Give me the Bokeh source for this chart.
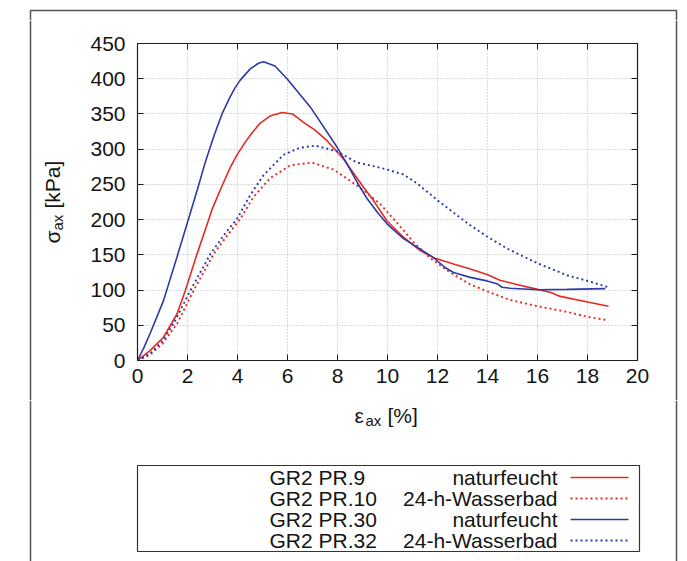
import math
from bokeh.plotting import figure
from bokeh.layouts import column, row
from bokeh.models import Range1d, LinearAxis, FixedTicker, CustomJSTickFormatter
from bokeh.core.properties import value
from bokeh.embed import file_html
from bokeh.resources import INLINE

# ---------------- data ----------------
pr9_x = [0, 0.5, 1.04, 1.58, 1.91, 2.38, 2.84, 3.0, 3.31, 3.71, 4.0, 4.31, 4.6, 4.91,
         5.3, 5.78, 6.2, 6.64, 7.1, 7.58, 8.24, 9.04, 9.44, 9.98, 10.64, 11.31, 11.84, 12.64,
         13.31, 13.98, 14.5, 15.17, 16.0, 16.51, 16.91, 18.0, 18.84]
pr9_y = [0, 14, 33, 66, 99, 151, 199, 216, 242, 274, 293, 310, 324, 337,
         347, 352, 350, 338, 327, 312, 286, 246, 227, 198, 175, 156, 146, 137,
         130, 122, 114, 108, 101, 97, 91, 83, 77]

pr10_x = [0, 0.5, 1.0, 1.58, 2.24, 3.04, 3.6, 4.11, 4.64, 5.31, 6.11, 6.98, 7.84, 8.51, 9.1,
          9.71, 10.37, 11.04, 11.65, 12.3, 12.64, 13.31, 14.0, 14.9, 16.0, 17.18, 18.0, 18.84]
pr10_y = [0, 8, 24, 52, 99, 151, 178, 201, 232, 259, 277, 281, 271, 255, 240,
          222, 196, 168, 147, 130, 122, 108, 98, 86, 77, 69, 62, 57]

pr30_x = [0, 0.25, 0.5, 1.04, 1.58, 2.04, 2.38, 2.7, 2.91, 3.1, 3.38, 3.7, 3.9, 4.11, 4.51,
          4.84, 5.04, 5.5, 5.98, 6.91, 7.98, 8.38, 8.8, 9.18, 9.6, 9.98, 10.64, 11.31, 11.84,
          12.3, 12.64, 13.31, 13.98, 14.38, 14.58, 14.91, 16.0, 17.18, 18.71]
pr30_y = [0, 18, 38, 85, 147, 201, 241, 280, 303, 323, 350, 374, 387, 398, 414,
          422, 424, 418, 400, 360, 303, 279, 252, 230, 210, 194, 173, 158, 146,
          132, 125, 118, 113, 109, 104, 102.5, 100.5, 101, 102]

pr32_x = [0, 0.51, 1.0, 1.44, 2.11, 2.91, 3.5, 3.98, 4.51, 5.04, 5.84, 6.5, 7.11, 7.98, 8.78,
          9.31, 10.0, 10.64, 11.2, 11.98, 12.64, 13.31, 13.98, 14.5, 14.78, 16.0, 17.18, 18.0,
          18.84]
pr32_y = [0, 10, 28, 52, 99, 151, 180, 201, 235, 263, 292, 302, 305, 297, 281,
          277, 271, 264, 251, 228, 210, 192, 176, 165, 159, 138, 121, 113,
          104]

series_names = ["GR2 PR.9", "GR2 PR.10", "GR2 PR.30", "GR2 PR.32"]
series_conditions = ["naturfeucht", "24-h-Wasserbad", "naturfeucht", "24-h-Wasserbad"]
x_ticks = [0, 2, 4, 6, 8, 10, 12, 14, 16, 18, 20]
y_ticks = [0, 50, 100, 150, 200, 250, 300, 350, 400, 450]

# ---------------- styles ----------------
RED = "#e62a1e"
BLUE = "#2e3aa6"
TXT = "#141414"
FRAME = "#555555"
FONT = "Liberation Sans"
FS = "21px"
series_x = [pr9_x, pr10_x, pr30_x, pr32_x]
series_y = [pr9_y, pr10_y, pr30_y, pr32_y]
series_color = [RED, RED, BLUE, BLUE]
series_dash = ["solid", "2 3", "solid", "2 3"]
series_width = [1.6, 1.9, 1.6, 1.9]

W, H = 687, 561
TOP_H = 20          # top strip height
MID_H = 380         # main strip height (y 20..400)
BOT_H = H - TOP_H - MID_H
LEFT_W = 70
RIGHT_W = 37
MAIN_W = W - LEFT_W - RIGHT_W
FL, FR, FT, FB = 137, 637, 43, 360   # plot frame edges in page pixels
OX0, OX1, OY0 = 30, 676, 10          # outer page frame


def no_align(f):
    try:
        f.frame_align = False
    except Exception:
        pass


def pix_fig(w, h, x0, y0):
    f = figure(width=w, height=h, x_range=Range1d(x0, x0 + w), y_range=Range1d(y0 + h, y0),
               output_backend="svg", toolbar_location=None, min_border=0,
               x_axis_type=None, y_axis_type=None)
    f.outline_line_color = None
    f.background_fill_color = "white"
    f.border_fill_color = "white"
    no_align(f)
    return f


def txt(f, x, y, t, size=FS, align="left", base="alphabetic", angle=0.0):
    f.text(x=[x], y=[y], text=[t], text_font=value(FONT), text_font_size=value(size),
           text_color=TXT, text_align=value(align), text_baseline=value(base), angle=angle)


# ---------------- main plot ----------------
p = figure(width=MAIN_W, height=MID_H, x_range=Range1d(0, 20), y_range=Range1d(0, 450),
           output_backend="svg", toolbar_location=None,
           min_border_left=FL - LEFT_W, min_border_right=LEFT_W + MAIN_W - FR,
           min_border_top=FT - TOP_H, min_border_bottom=TOP_H + MID_H - FB)
no_align(p)
p.background_fill_color = "white"
p.border_fill_color = "white"
p.outline_line_color = "#1e1e1e"
p.outline_line_width = 1.2

p.xaxis.ticker = FixedTicker(ticks=x_ticks)
p.yaxis.ticker = FixedTicker(ticks=y_ticks)
for ax in (p.xaxis[0], p.yaxis[0]):
    ax.axis_line_color = None
    ax.major_tick_in = 6
    ax.major_tick_out = 0
    ax.major_tick_line_color = "#1e1e1e"
    ax.minor_tick_line_color = None
    ax.major_label_text_font = FONT
    ax.major_label_text_font_size = FS
    ax.major_label_text_color = TXT
p.xaxis.major_label_standoff = 8
p.yaxis.major_label_standoff = 12

for loc, tks in (("above", x_ticks), ("right", y_ticks)):
    ax = LinearAxis(ticker=FixedTicker(ticks=tks),
                    formatter=CustomJSTickFormatter(code="return ''"),
                    axis_line_color=None, major_tick_in=6, major_tick_out=0,
                    major_tick_line_color="#1e1e1e", minor_tick_line_color=None,
                    major_label_text_font_size="0px", major_label_standoff=0)
    p.add_layout(ax, loc)

p.grid.grid_line_color = "#b8b8b8"
p.grid.grid_line_dash = "1 2"
p.grid.grid_line_width = 1

for xs, ys, c, d, w in zip(series_x, series_y, series_color, series_dash, series_width):
    p.line(xs, ys, line_color=c, line_width=w, line_dash=d)

# ---------------- surrounding strips ----------------
p_top = pix_fig(W, TOP_H, 0, 0)
p_top.line([OX0, OX0, OX1, OX1], [TOP_H, OY0, OY0, TOP_H], line_color=FRAME, line_width=1.5)

p_left = pix_fig(LEFT_W, MID_H, 0, TOP_H)
p_left.line([OX0, OX0], [TOP_H, TOP_H + MID_H], line_color=FRAME, line_width=1.5)
R = math.pi / 2
txt(p_left, 52, 243, "σ", "21px", angle=R)
txt(p_left, 57, 230, "ax", "15px", angle=R)
txt(p_left, 52, 208, "[kPa]", "21px", angle=R)

p_right = pix_fig(RIGHT_W, MID_H, LEFT_W + MAIN_W, TOP_H)
p_right.line([OX1, OX1], [TOP_H, TOP_H + MID_H], line_color=FRAME, line_width=1.5)

y0b = TOP_H + MID_H
p_bot = pix_fig(W, BOT_H, 0, y0b)
p_bot.line([OX0, OX0], [y0b, H], line_color=FRAME, line_width=1.5)
p_bot.line([OX1, OX1], [y0b, H], line_color=FRAME, line_width=1.5)
# x axis title
txt(p_bot, 354, 415, "ε", "21px")
txt(p_bot, 365, 419.5, "ax", "15px")
txt(p_bot, 387, 415, "[%]", "21px")
# legend
p_bot.quad(left=[137], right=[639], top=[465], bottom=[551], fill_color=None,
           line_color="#333333", line_width=1.2)
row0, dy = 477, 21
for i, (nm, cond) in enumerate(zip(series_names, series_conditions)):
    yy = row0 + i * dy
    txt(p_bot, 269, yy, nm, FS, base="middle")
    txt(p_bot, 557, yy, cond, FS, align="right", base="middle")
    p_bot.line([570, 628], [yy, yy], line_color=series_color[i],
               line_width=series_width[i], line_dash=series_dash[i])

layout = column(p_top, row(p_left, p, p_right), p_bot)
open("out.html", "w").write(file_html(layout, INLINE))
